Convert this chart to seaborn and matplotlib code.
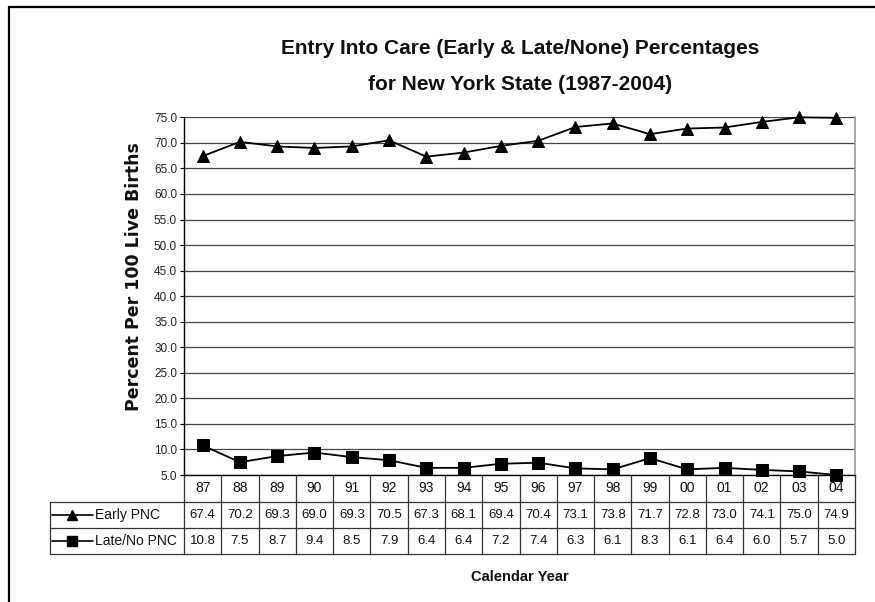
import matplotlib
matplotlib.use("Agg")
import matplotlib.pyplot as plt
import matplotlib.transforms as mtransforms
from matplotlib.lines import Line2D
import seaborn as sns
import pandas as pd

years = ["87", "88", "89", "90", "91", "92", "93", "94", "95", "96", "97", "98", "99", "00", "01", "02", "03", "04"]
early_pnc = [67.4, 70.2, 69.3, 69.0, 69.3, 70.5, 67.3, 68.1, 69.4, 70.4, 73.1, 73.8, 71.7, 72.8, 73.0, 74.1, 75.0, 74.9]
late_pnc = [10.8, 7.5, 8.7, 9.4, 8.5, 7.9, 6.4, 6.4, 7.2, 7.4, 6.3, 6.1, 8.3, 6.1, 6.4, 6.0, 5.7, 5.0]
series_names = ["Early PNC", "Late/No PNC"]
y_ticks = [5.0, 10.0, 15.0, 20.0, 25.0, 30.0, 35.0, 40.0, 45.0, 50.0, 55.0, 60.0, 65.0, 70.0, 75.0]

sns.set_theme(style="white")
NARROW = ["Liberation Sans Narrow", "Liberation Sans", "DejaVu Sans"]
plt.rcParams["font.family"] = NARROW

df = pd.DataFrame({
    "idx": list(range(len(years))) * 2,
    "value": early_pnc + late_pnc,
    "series": [series_names[0]] * len(years) + [series_names[1]] * len(years),
})

fig = plt.figure(figsize=(8.75, 6.02), dpi=100)
ax = fig.add_axes([184 / 875, 1 - 475 / 602, (855 - 184) / 875, (475 - 117.3) / 602])

markers = {series_names[0]: "^", series_names[1]: "s"}
sns.lineplot(data=df, x="idx", y="value", hue="series", style="series",
             markers=markers, dashes=False, palette=["black", "black"],
             markersize=9, linewidth=1.3, markeredgecolor="black",
             legend=False, ax=ax, clip_on=False)

ax.set_xlim(-0.5, len(years) - 0.5)
ax.set_ylim(5, 75)
ax.set_yticks(y_ticks)
ax.set_yticklabels([f"{v:.1f}" for v in y_ticks], fontsize=8.5, color="#222222")
ax.set_xticks([])
ax.set_xlabel("")
ax.set_ylabel("Percent Per 100 Live Births", family="DejaVu Sans", fontweight="bold",
              fontsize=12.5, color="#111111")
ax.yaxis.set_label_coords(-0.061, 0.556)
ax.tick_params(axis="y", which="major", left=True, length=3, width=0.8, color="black", pad=2)
ax.grid(axis="y", color="#444444", linewidth=0.9)
for side in ["left", "bottom"]:
    ax.spines[side].set_color("black")
    ax.spines[side].set_linewidth(1.0)
ax.spines["right"].set_color("#999999")
ax.spines["right"].set_linewidth(1.2)
ax.spines["top"].set_visible(False)

# data table below the plot
trans = mtransforms.blended_transform_factory(ax.transData, ax.transAxes)
px = 1 / (475 - 117.3)
h0, h1, h2, h3 = 0.0, -27 * px, -53 * px, -79 * px
col_w = (855 - 184) / len(years)
def px2x(p):
    return (p - 184) / col_w - 0.5
x_label_left = px2x(50)
x_right = len(years) - 0.5
lc = "#333333"
lw = 0.9
for yy in [h1, h2, h3]:
    ax.add_line(Line2D([x_label_left, x_right], [yy, yy],
                       transform=trans, color=lc, lw=lw, clip_on=False))
for k in range(len(years) + 1):
    ax.add_line(Line2D([k - 0.5, k - 0.5], [h0, h3], transform=trans,
                       color=lc, lw=lw, clip_on=False))
ax.add_line(Line2D([x_label_left, x_label_left], [h1, h3], transform=trans,
                   color=lc, lw=lw, clip_on=False))

for i, yr in enumerate(years):
    ax.text(i, (h0 + h1) / 2, yr, transform=trans, ha="center", va="center",
            fontsize=10, color="#111111", clip_on=False)
    ax.text(i, (h1 + h2) / 2, f"{early_pnc[i]:.1f}", transform=trans, ha="center",
            va="center", fontsize=9.5, color="#111111", clip_on=False)
    ax.text(i, (h2 + h3) / 2, f"{late_pnc[i]:.1f}", transform=trans, ha="center",
            va="center", fontsize=9.5, color="#111111", clip_on=False)

for name, yy in zip(series_names, [(h1 + h2) / 2, (h2 + h3) / 2]):
    ax.add_line(Line2D([px2x(52), px2x(93)], [yy, yy], transform=trans, color="black",
                       lw=1.2, clip_on=False))
    ax.add_line(Line2D([px2x(72)], [yy], transform=trans, color="black", lw=0,
                       marker=markers[name], markersize=7.5, clip_on=False))
    ax.text(px2x(95), yy, name, transform=trans, ha="left", va="center",
            fontsize=10, color="#111111", clip_on=False)

ax.text(0.5, -(577 - 475) * px, "Calendar Year", transform=ax.transAxes, ha="center",
        va="center", fontsize=10.5, fontweight="bold", family=["Liberation Sans", "DejaVu Sans"],
        color="#111111")

# title
fig.text(520 / 875, 1 - 48 / 602, "Entry Into Care (Early & Late/None) Percentages",
         ha="center", va="center", fontsize=15, fontweight="bold", color="#111111")
fig.text(520 / 875, 1 - 85 / 602, "for New York State (1987-2004)",
         ha="center", va="center", fontsize=15, fontweight="bold", color="#111111")

# outer frame (left & top)
fig.add_artist(Line2D([9 / 875, 9 / 875], [0, 1 - 7 / 602], transform=fig.transFigure,
                      color="black", lw=1.6))
fig.add_artist(Line2D([9 / 875, 1], [1 - 7 / 602, 1 - 7 / 602], transform=fig.transFigure,
                      color="black", lw=1.6))

fig.savefig("out.png", dpi=100)
